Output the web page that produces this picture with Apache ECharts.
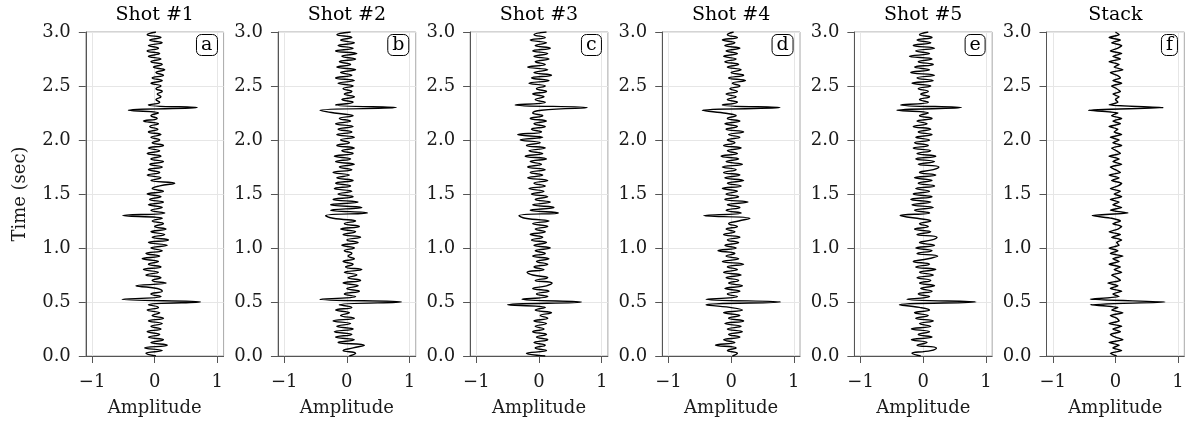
<!DOCTYPE html>
<html><head><meta charset="utf-8">
<script src="https://cdn.jsdelivr.net/npm/echarts@6/dist/echarts.min.js"></script>
<style>html,body{margin:0;padding:0;background:#fff}#c{width:1187px;height:425px}</style>
</head><body><div id="c"></div>
<script>
const panelTitles = ['Shot #1', 'Shot #2', 'Shot #3', 'Shot #4', 'Shot #5', 'Stack'];
const panelLetters = ['a', 'b', 'c', 'd', 'e', 'f'];
const timeTicks = [0, 0.5, 1, 1.5, 2, 2.5, 3];
const ampTicks = [-1, 0, 1];
const dt = 0.025; // sample interval (s), samples from t=0 to t=3.0

const shot1 = [
  0.02, -0.14, 0.12, -0.16, 0.20, -0.06, 0.14, -0.10, 0.08, -0.12,
  0.10, -0.06, 0.12, -0.10, 0.14, -0.04, 0.08, -0.12, 0.06, -0.10,
  0.73, -0.52, 0.10, -0.06, 0.12, 0.04, -0.30, 0.18, -0.04, 0.10,
  -0.14, 0.06, -0.18, 0.10, -0.10, 0.06, -0.20, 0.08, -0.14, 0.12,
  -0.06, 0.20, -0.10, 0.22, -0.04, 0.16, -0.06, 0.18, 0.00, 0.14,
  -0.04, 0.12, -0.51, 0.16, -0.06, 0.12, -0.10, 0.14, -0.08, 0.10,
  -0.12, 0.14, -0.04, 0.08, 0.32, -0.06, 0.10, -0.12, 0.08, -0.10,
  0.12, -0.08, 0.14, -0.06, 0.10, -0.12, 0.08, -0.10, 0.14, -0.04,
  0.08, -0.06, 0.10, -0.10, 0.05, -0.08, 0.06, -0.18, 0.04, -0.06,
  0.06, -0.42, 0.68, -0.10, 0.08, 0.02, 0.10, 0.04, 0.12, 0.02,
  0.10, -0.06, 0.12, -0.04, 0.14, 0.02, 0.16, -0.02, 0.12, -0.06,
  0.10, -0.10, 0.08, -0.12, 0.06, -0.10, 0.12, -0.08, 0.10, -0.12,
  0.02
];
const shot2 = [
  0.04, 0.14, -0.06, 0.10, 0.28, -0.14, 0.12, -0.18, 0.08, -0.20,
  0.10, -0.16, 0.06, -0.22, 0.12, -0.10, 0.04, -0.18, 0.08, -0.12,
  0.87, -0.43, 0.14, -0.04, 0.20, 0.00, 0.18, -0.06, 0.22, 0.02,
  0.16, -0.04, 0.24, -0.02, 0.10, -0.06, 0.12, 0.02, 0.08, -0.04,
  0.12, -0.08, 0.18, 0.00, 0.22, -0.06, 0.14, -0.10, 0.20, -0.04,
  0.14, -0.22, -0.34, 0.33, -0.26, 0.24, -0.26, 0.18, -0.22, 0.10,
  -0.14, 0.08, -0.20, 0.06, -0.18, 0.10, -0.16, 0.04, -0.22, 0.08,
  -0.12, 0.12, -0.18, 0.06, -0.20, 0.10, -0.08, 0.12, -0.16, 0.04,
  -0.10, 0.12, -0.16, 0.08, -0.14, 0.10, -0.18, 0.06, -0.12, 0.10,
  -0.20, -0.43, 0.79, -0.18, 0.10, -0.08, 0.12, -0.04, 0.08, -0.06,
  0.10, -0.14, 0.12, -0.18, 0.08, -0.10, 0.14, -0.16, 0.06, -0.12,
  0.14, -0.08, 0.16, -0.18, 0.10, -0.14, 0.12, -0.10, 0.08, -0.16,
  0.06
];
const shot3 = [
  0.10, -0.20, 0.12, -0.06, 0.10, -0.08, 0.14, -0.04, 0.12, -0.10,
  0.08, -0.06, 0.12, -0.08, 0.14, 0.02, 0.20, -0.06, 0.10, -0.50,
  0.68, -0.27, 0.14, -0.04, 0.16, -0.10, 0.12, 0.21, -0.06, 0.14,
  -0.10, -0.19, 0.08, -0.08, 0.14, -0.04, 0.16, -0.10, 0.10, -0.06,
  0.18, -0.08, 0.12, -0.12, 0.06, -0.14, 0.10, -0.06, 0.14, -0.10,
  0.16, -0.22, -0.32, 0.31, -0.14, 0.24, -0.10, 0.18, -0.06, 0.14,
  -0.12, 0.08, -0.16, 0.10, -0.08, 0.14, -0.18, 0.06, -0.14, 0.10,
  -0.18, 0.04, -0.14, 0.12, -0.22, 0.06, -0.16, 0.10, -0.20, 0.02,
  -0.30, 0.06, -0.34, 0.04, -0.12, 0.10, -0.08, 0.12, -0.14, 0.06,
  -0.10, 0.04, 0.77, -0.38, 0.10, -0.06, 0.08, -0.10, 0.12, -0.04,
  0.10, -0.16, 0.16, -0.12, 0.20, -0.08, 0.14, -0.18, 0.10, -0.06,
  0.16, -0.08, 0.14, -0.10, 0.18, -0.06, 0.12, -0.14, 0.10, -0.08,
  0.12
];
const shot4 = [
  0.02, 0.10, -0.06, 0.08, -0.25, 0.06, -0.12, 0.14, -0.04, 0.18,
  -0.06, 0.16, -0.10, 0.20, -0.04, 0.14, -0.12, 0.18, -0.02, -0.40,
  0.79, -0.40, 0.10, -0.06, 0.14, -0.10, 0.18, -0.04, 0.12, -0.08,
  0.16, -0.12, 0.10, -0.06, 0.20, -0.14, 0.12, -0.08, 0.06, -0.21,
  0.08, -0.10, 0.12, -0.06, 0.14, -0.12, 0.06, -0.08, 0.10, -0.04,
  0.12, 0.30, -0.44, 0.16, -0.08, 0.14, -0.06, 0.27, -0.10, 0.12,
  -0.08, 0.10, -0.14, 0.16, -0.06, 0.20, -0.10, 0.14, -0.12, 0.08,
  -0.14, 0.18, -0.08, 0.12, -0.16, 0.10, -0.06, 0.16, -0.12, 0.06,
  -0.06, 0.14, -0.04, 0.20, -0.08, 0.10, -0.10, 0.14, -0.06, 0.08,
  -0.12, -0.46, 0.78, -0.14, 0.10, -0.06, 0.08, -0.08, 0.10, -0.02,
  0.14, 0.02, 0.23, -0.04, 0.20, 0.00, 0.16, -0.06, 0.12, -0.10,
  0.08, -0.12, 0.10, -0.08, 0.14, -0.10, 0.06, -0.14, 0.10, -0.06,
  0.04
];
const shot5 = [
  -0.04, -0.18, 0.12, 0.21, -0.10, 0.06, -0.19, 0.14, -0.08, 0.10,
  -0.19, 0.12, -0.06, 0.16, -0.12, 0.08, -0.14, 0.10, -0.06, -0.38,
  0.84, -0.26, 0.10, -0.08, 0.14, -0.04, 0.18, -0.06, 0.12, -0.10,
  0.16, -0.06, 0.20, -0.12, 0.10, -0.16, 0.08, 0.23, -0.10, 0.14,
  -0.12, 0.18, -0.06, 0.14, 0.22, -0.10, 0.12, -0.14, 0.08, -0.06,
  0.12, -0.10, -0.37, 0.10, -0.14, 0.16, -0.18, 0.12, -0.20, 0.14,
  -0.16, 0.10, -0.12, 0.18, -0.08, 0.14, -0.14, 0.20, -0.06, 0.16,
  0.25, -0.08, 0.18, -0.12, 0.20, -0.10, 0.12, -0.16, 0.08, -0.14,
  0.10, -0.12, 0.14, -0.08, 0.12, -0.16, 0.06, -0.10, 0.14, -0.06,
  0.08, -0.42, 0.61, -0.36, 0.08, -0.06, 0.10, -0.04, 0.08, -0.08,
  0.12, -0.18, 0.16, -0.10, 0.18, -0.20, 0.10, -0.14, 0.16, -0.08,
  0.14, -0.22, 0.10, -0.12, 0.18, -0.16, 0.12, -0.10, 0.14, -0.06,
  0.08
];
const stack = [
  0.02, -0.08, 0.10, -0.04, 0.06, -0.10, 0.12, 0.00, -0.08, 0.08,
  -0.04, 0.10, -0.10, 0.06, 0.02, -0.08, 0.12, -0.06, 0.04, -0.40,
  0.79, -0.40, 0.06, -0.04, 0.10, -0.08, 0.04, -0.12, 0.08, 0.02,
  -0.06, 0.10, -0.02, 0.08, -0.10, 0.06, -0.04, 0.12, -0.08, 0.04,
  -0.10, 0.06, 0.02, 0.10, -0.06, 0.08, -0.10, 0.04, 0.10, -0.04,
  0.08, -0.06, -0.37, 0.20, -0.08, 0.10, -0.04, 0.06, -0.08, 0.10,
  -0.02, 0.08, -0.08, 0.04, 0.10, -0.06, 0.06, -0.10, 0.08, 0.00,
  -0.08, 0.10, -0.04, 0.06, -0.10, 0.08, 0.02, -0.06, 0.10, -0.04,
  0.06, -0.08, 0.10, -0.02, 0.04, -0.10, 0.08, -0.04, 0.10, -0.06,
  0.04, -0.43, 0.77, -0.10, 0.04, 0.00, 0.06, -0.04, 0.08, 0.02,
  -0.06, 0.10, -0.04, 0.08, 0.02, -0.08, 0.12, -0.02, 0.06, -0.10,
  0.08, -0.04, 0.10, -0.08, 0.04, 0.10, -0.06, 0.08, -0.10, 0.06,
  0.00
];
const traces = [shot1, shot2, shot3, shot4, shot5, stack];

const FONT = 'DejaVu Serif';
const P0 = 85.8, STEP = 192.14, PW = 137.8, TOP = 32, PH = 324;
const fmtAmp = v => (v < 0 ? '\u2212' + Math.abs(v) : String(v));

const grids = [], xAxes = [], yAxes = [], series = [], titles = [], graphics = [];
traces.forEach((tr, i) => {
  const left = P0 + STEP * i;
  grids.push({ left: left, top: TOP, width: PW, height: PH, show: true, borderColor: '#a8a8a8', borderWidth: 1, backgroundColor: 'transparent' });
  xAxes.push({
    gridIndex: i, type: 'value', min: -1.1, max: 1.1,
    axisLine: { show: true, onZero: false, lineStyle: { color: '#555', width: 1 } },
    axisTick: { show: true, length: 7, customValues: ampTicks, lineStyle: { color: '#555' } },
    axisLabel: { customValues: ampTicks, formatter: fmtAmp, margin: 17, fontSize: 18, color: '#1a1a1a', fontFamily: FONT },
    splitLine: { show: true, lineStyle: { color: '#e6e6e6', width: 1 } },
    name: 'Amplitude', nameLocation: 'middle', nameGap: 43,
    nameTextStyle: { fontSize: 18, color: '#1a1a1a', fontFamily: FONT }
  });
  const ya = {
    gridIndex: i, type: 'value', min: timeTicks[0], max: timeTicks[timeTicks.length - 1], interval: 0.5,
    axisLine: { show: true, onZero: false, lineStyle: { color: '#555', width: 1 } },
    axisTick: { show: true, length: 7, lineStyle: { color: '#555' } },
    axisLabel: { formatter: v => v.toFixed(1), margin: 15, fontSize: 18, color: '#1a1a1a', fontFamily: FONT },
    splitLine: { show: true, lineStyle: { color: '#e6e6e6', width: 1 } }
  };
  if (i === 0) {
    ya.name = 'Time (sec)'; ya.nameLocation = 'middle'; ya.nameGap = 56;
    ya.nameTextStyle = { fontSize: 18, color: '#1a1a1a', fontFamily: FONT };
  }
  yAxes.push(ya);
  series.push({
    type: 'line', xAxisIndex: i, yAxisIndex: i,
    data: tr.map((a, k) => [a, +(k * dt).toFixed(3)]),
    showSymbol: false, symbol: 'none', smooth: i === 5 ? 0.2 : 0.5,
    lineStyle: { color: '#000', width: 1.4 }, silent: true, z: 3
  });
  graphics.push({
    type: 'text', x: left + PW / 2, y: 15,
    style: { text: panelTitles[i], textAlign: 'center', textVerticalAlign: 'middle', font: '19px "' + FONT + '"', fill: '#000' }
  });
  titles.push({
    text: panelLetters[i], right: 1187 - (217.3 + STEP * i), top: 34,
    padding: [2, 5, 1, 5], borderColor: '#000', borderWidth: 1, borderRadius: 5, backgroundColor: '#fff',
    textStyle: { fontSize: 19, fontWeight: 'normal', color: '#000', fontFamily: FONT }
  });
});

const chart = echarts.init(document.getElementById('c'), null, { renderer: 'canvas' });
chart.setOption({
  animation: false,
  backgroundColor: '#fff',
  title: titles,
  grid: grids, xAxis: xAxes, yAxis: yAxes, series: series,
  graphic: graphics
});
</script></body></html>
